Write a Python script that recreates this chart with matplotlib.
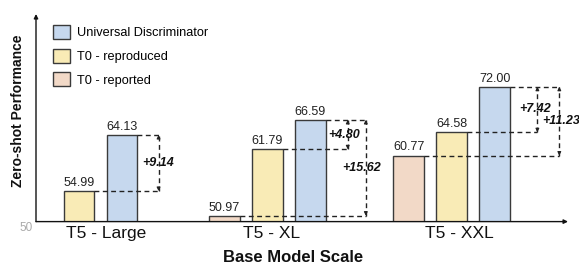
import matplotlib
matplotlib.use("Agg")
import matplotlib.pyplot as plt
from matplotlib.patches import Patch

plt.rcParams['font.family'] = ['Liberation Sans', 'DejaVu Sans']

# ---- data ----
categories = ["T5 - Large", "T5 - XL", "T5 - XXL"]
series_names = ["Universal Discriminator", "T0 - reproduced", "T0 - reported"]
ud_values = [64.13, 66.59, 72.00]
t0_repro_values = [54.99, 61.79, 64.58]
t0_report_values = [None, 50.97, 60.77]
gain_vs_repro = ["+9.14", "+4.80", "+7.42"]
gain_vs_report = [None, "+15.62", "+11.23"]

# ---- style / layout ----
colors = {"ud": "#c6d8ee", "repro": "#f9ebb6", "report": "#f2d9c7"}
edge = "#3a3a3a"
group_pos = [1.0, 5.38, 9.67]     # position of the "reproduced" bar
tick_pos = [1.63, 5.48, 9.85]
bar_w = 0.72
arrow_off_1 = [0.49, 0.51, 0.63]  # from UD right edge
arrow_off_2 = [None, 0.93, 1.14]
label_dx_1 = [0.0, -0.09, -0.06]
label_dx_2 = [None, -0.09, 0.04]

fig = plt.figure(figsize=(5.79, 2.64), dpi=100)
ax = fig.add_axes([36/579, 1-221.6/264, (568-36)/579, (221.6-14)/264])
ax.set_xlim(0, 532/43)
ax.set_ylim(50, 50 + (221.6-14)/6.13)

for s in ax.spines.values():
    s.set_visible(False)

def bar(x, v, c):
    ax.bar(x, v - 50, bottom=50, width=bar_w, color=c, edgecolor=edge, linewidth=1.0, zorder=2)
    ax.annotate(f"{v:.2f}", (x, v), xytext=(0, 1.5), textcoords="offset points",
                ha="center", va="bottom", fontsize=9, color="#222")

dash_kw = dict(color="#222", linestyle=(0, (3.5, 2.5)), linewidth=1.0, zorder=4)

def small_arrow(x, y_from, y_to):
    ax.annotate("", xy=(x, y_to), xytext=(x, y_from),
                arrowprops=dict(arrowstyle="-|>", color="#222", lw=0.8,
                                mutation_scale=5, shrinkA=0, shrinkB=0), zorder=5)

def double_arrow(x, lo, hi, label, dx):
    ax.plot([x, x], [lo, hi], **dash_kw)
    d = 0.6
    small_arrow(x, hi - d, hi)
    small_arrow(x, lo + d, lo)
    ax.text(x + dx, (lo + hi) / 2, label, ha="center", va="center", fontsize=9,
            fontweight="bold", fontstyle="italic", color="#111", zorder=6)

for i, g in enumerate(group_pos):
    x_rep, x_rpt, x_ud = g, g - 1, g + 1
    if t0_report_values[i] is not None:
        bar(x_rpt, t0_report_values[i], colors["report"])
    bar(x_rep, t0_repro_values[i], colors["repro"])
    bar(x_ud, ud_values[i], colors["ud"])

    ud_right = x_ud + bar_w / 2
    a1 = ud_right + arrow_off_1[i]
    far = a1
    if arrow_off_2[i] is not None:
        far = ud_right + arrow_off_2[i]
    ax.plot([ud_right, far], [ud_values[i]] * 2, **dash_kw)
    ax.plot([x_rep + bar_w / 2, a1], [t0_repro_values[i]] * 2, **dash_kw)
    double_arrow(a1, t0_repro_values[i], ud_values[i], gain_vs_repro[i], label_dx_1[i])
    if arrow_off_2[i] is not None:
        a2 = far
        ax.plot([x_rpt + bar_w / 2, a2], [t0_report_values[i]] * 2, **dash_kw)
        double_arrow(a2, t0_report_values[i], ud_values[i], gain_vs_report[i], label_dx_2[i])

# axes lines with arrows
ax.annotate("", xy=(0, 1), xytext=(0, 0), xycoords="axes fraction",
            arrowprops=dict(arrowstyle="-|>", color="#111", lw=1.0, mutation_scale=6,
                            shrinkA=0, shrinkB=0))
ax.annotate("", xy=(1, 0), xytext=(0, 0), xycoords="axes fraction",
            arrowprops=dict(arrowstyle="-|>", color="#111", lw=1.0, mutation_scale=6,
                            shrinkA=0, shrinkB=0))

ax.set_yticks([])
ax.set_xticks(tick_pos)
ax.set_xticklabels(categories, fontsize=12.5, color="#111")
ax.tick_params(axis="x", length=0, pad=3)

fig.text(33/579, 1-228/264, "50", ha="right", va="center", fontsize=8.5, color="#aaaaaa")
fig.text(293/579, 1-257/264, "Base Model Scale", ha="center", va="center",
         fontsize=12, fontweight="bold", color="#111")
fig.text(18/579, 1-111/264, "Zero-shot Performance", ha="center", va="center",
         rotation=90, fontsize=10, fontweight="bold", color="#111")

handles = [Patch(facecolor=colors["ud"], edgecolor=edge, linewidth=1.0),
           Patch(facecolor=colors["repro"], edgecolor=edge, linewidth=1.0),
           Patch(facecolor=colors["report"], edgecolor=edge, linewidth=1.0)]
ax.legend(handles, series_names, loc="upper left", bbox_to_anchor=(53/579, 1-25/264),
          bbox_transform=fig.transFigure, frameon=False, fontsize=9.2,
          handlelength=1.34, handleheight=1.34, labelspacing=0.72,
          handletextpad=0.55, borderpad=0, borderaxespad=0)

fig.savefig("out.png", dpi=100)
